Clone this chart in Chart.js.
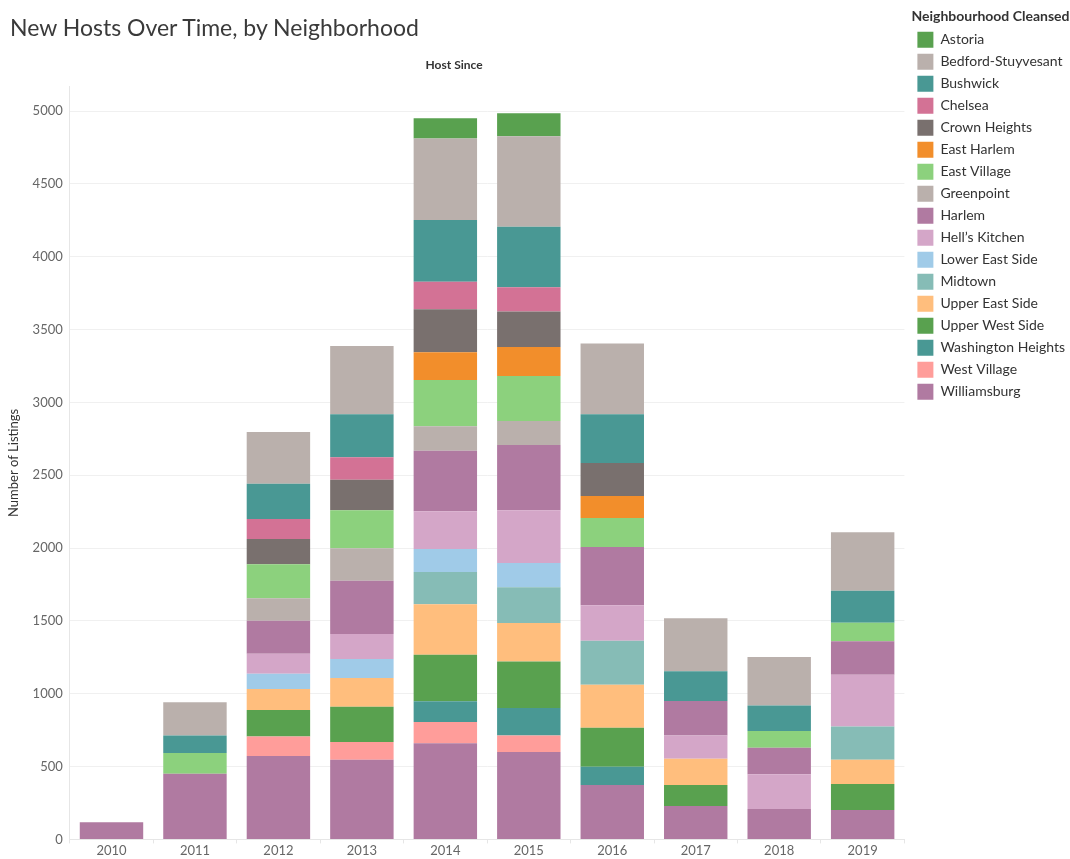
<!DOCTYPE html>
<html lang="en">
  <head>
    <meta charset="UTF-8" />
    <title>New Hosts Over Time, by Neighborhood</title>
    <style>
      body { margin: 0; background: #fff; font-family: Lato, "Open Sans", sans-serif; }
      .wrap { position: relative; width: 1070px; height: 859px; }
      .wrap h1 {
        position: absolute; left: 10px; top: 13px; margin: 0;
        font-size: 23px; font-weight: 400; color: #3a3a3a;
      }
    </style>
  </head>
  <body>
    <div class="wrap">
      <h1>New Hosts Over Time, by Neighborhood</h1>
      <canvas id="myChart" width="1070" height="859"></canvas>
    </div>
    <script src="https://cdn.jsdelivr.net/npm/chart.js"></script>
    <script>
      // years on the x axis
      const years = ["2010", "2011", "2012", "2013", "2014", "2015", "2016", "2017", "2018", "2019"];
      const yTicks = [0, 500, 1000, 1500, 2000, 2500, 3000, 3500, 4000, 4500, 5000];

      // listings per neighbourhood and year (null = no bar segment)
      const astoria           = [null, null, null, null, 140, 158, null, null, null, null];
      const bedfordStuyvesant = [null, 227, 355, 469, 559, 621, 485, 364, 332, 400];
      const bushwick          = [null, 121, 242, 295, 425, 416, 335, 204, 176, 220];
      const chelsea           = [null, null, 138, 154, 188, 167, null, null, null, null];
      const crownHeights      = [null, null, 173, 210, 295, 243, 226, null, null, null];
      const eastHarlem        = [null, null, null, null, 190, 199, 151, null, null, null];
      const eastVillage       = [null, 142, 234, 261, 319, 309, 199, null, 115, 128];
      const greenpoint        = [null, null, 154, 223, 167, 165, null, null, null, null];
      const harlem            = [null, null, 226, 366, 416, 448, 401, 236, 181, 230];
      const hellsKitchen      = [null, null, 138, 172, 259, 362, 243, 160, 240, 354];
      const lowerEastSide     = [null, null, 105, 130, 158, 167, null, null, null, null];
      const midtown           = [null, null, null, null, 222, 245, 302, null, null, 229];
      const upperEastSide     = [null, null, 144, 197, 346, 264, 295, 181, null, 167];
      const upperWestSide     = [null, null, 181, 243, 320, 320, 268, 144, null, 179];
      const washingtonHeights = [null, null, null, null, 142, 188, 126, null, null, null];
      const westVillage       = [null, null, 135, 121, 145, 114, null, null, null, null];
      const williamsburg      = [117, 451, 572, 547, 661, 600, 373, 229, 208, 201];

      // legend order (top of stack first)
      const nomes = ["Astoria", "Bedford-Stuyvesant", "Bushwick", "Chelsea", "Crown Heights",
        "East Harlem", "East Village", "Greenpoint", "Harlem", "Hell\u2019s Kitchen",
        "Lower East Side", "Midtown", "Upper East Side", "Upper West Side",
        "Washington Heights", "West Village", "Williamsburg"];
      const valores = [astoria, bedfordStuyvesant, bushwick, chelsea, crownHeights,
        eastHarlem, eastVillage, greenpoint, harlem, hellsKitchen, lowerEastSide,
        midtown, upperEastSide, upperWestSide, washingtonHeights, westVillage, williamsburg];
      const cores = ["#59a14f", "#bab0ac", "#499894", "#d37295", "#79706e", "#f28e2b",
        "#8cd17d", "#bab0ac", "#b07aa1", "#d4a6c8", "#a0cbe8", "#86bcb6", "#ffbe7d",
        "#59a14f", "#499894", "#ff9d9a", "#b07aa1"];

      // chart.js stacks the first dataset at the bottom, so go in reverse
      const datasets = [];
      for (var i = nomes.length - 1; i >= 0; i--) {
        datasets.push({
          label: nomes[i],
          data: valores[i],
          backgroundColor: cores[i],
          borderColor: cores[i],
          borderWidth: 0,
          barPercentage: 0.76,
          categoryPercentage: 1.0,
        });
      }

      // push the legend a few px to the right without touching the plot area
      const legendNudge = {
        id: "legendNudge",
        beforeUpdate(chart) {
          const legend = chart.legend;
          if (!legend || legend._nudged) return;
          const draw = legend.draw;
          legend.draw = function () {
            chart.ctx.save();
            chart.ctx.translate(7, 0);
            draw.call(this);
            chart.ctx.restore();
          };
          legend._nudged = true;
        },
      };

      Chart.defaults.font.family = "Lato, 'Open Sans', sans-serif";
      Chart.defaults.color = "#666";

      const config = {
        type: "bar",
        data: { labels: years, datasets: datasets },
        plugins: [legendNudge],
        options: {
          responsive: false,
          animation: false,
          layout: { padding: { left: 0, right: 2, top: 4, bottom: 0 } },
          plugins: {
            tooltip: { enabled: false },
            title: {
              display: true,
              // trailing em spaces nudge the centred text left, as in the original
              text: "Host Since\u2003\u2003\u2003\u2003\u2003\u2003\u2002\u2002",
              fullSize: false,
              color: "#333",
              font: { size: 12, weight: "bold" },
              padding: { top: 54, bottom: 14 },
            },
            legend: {
              position: "right",
              align: "start",
              reverse: true,
              title: {
                display: true,
                text: "Neighbourhood Cleansed",
                position: "start",
                color: "#333",
                font: { size: 14, weight: "bold" },
                padding: { top: 5, bottom: 0 },
              },
              labels: {
                boxWidth: 16,
                boxHeight: 16,
                padding: 6,
                color: "#333",
                font: { size: 14 },
              },
            },
          },
          scales: {
            x: {
              stacked: true,
              grid: { display: true, drawOnChartArea: false, drawTicks: true, tickLength: 4, color: "#e6e6e6" },
              border: { display: true, color: "#e6e6e6" },
              ticks: { padding: 0, color: "#666", font: { size: 13 } },
            },
            y: {
              stacked: true,
              min: 0,
              max: 5170,
              afterBuildTicks: (axis) => { axis.ticks = yTicks.map((v) => ({ value: v })); },
              grid: { color: "#f0f0f0", drawTicks: false },
              border: { display: true, color: "#e6e6e6" },
              ticks: { padding: 7, color: "#666", font: { size: 13 }, callback: (v) => String(v) },
              title: {
                display: true,
                text: "Number of Listings",
                color: "#333",
                font: { size: 13 },
                padding: { top: 6, bottom: 4 },
              },
            },
          },
        },
      };

      var myChart = new Chart(document.getElementById("myChart"), config);
    </script>
  </body>
</html>
